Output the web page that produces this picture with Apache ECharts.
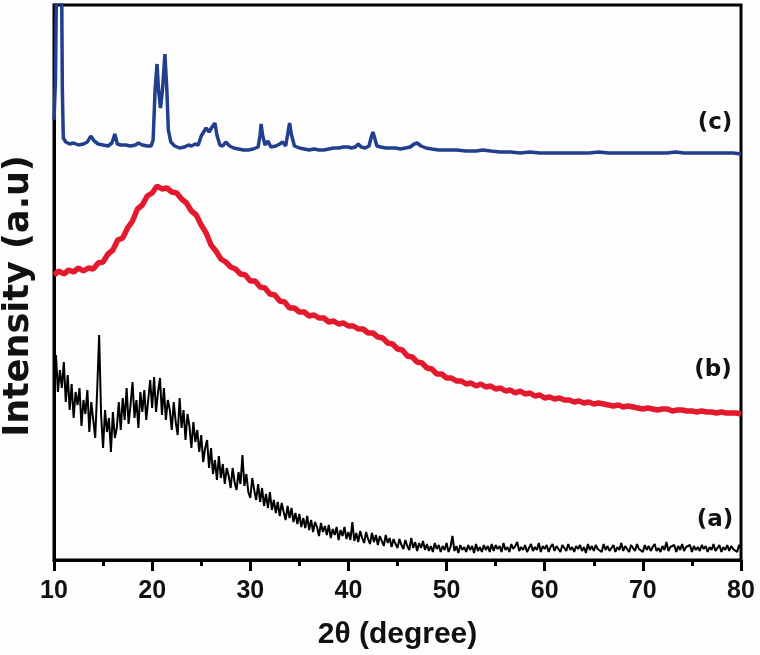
<!DOCTYPE html>
<html>
<head>
<meta charset="utf-8">
<title>XRD patterns</title>
<script src="https://cdn.jsdelivr.net/npm/echarts@6.0.0/dist/echarts.min.js"></script>
<style>
	html, body {margin: 0; padding: 0; background: #fefdfe;}
	#chart {width: 760px; height: 655px;}
</style>
</head>
<body>
<div id="chart"></div>
<script>
"use strict";

// 2theta axis
var xMin = 10, xMax = 80, xStep = 10;
var xTicks = [10, 20, 30, 40, 50, 60, 70, 80];

// (a) black pattern, one value every 0.2 degree from 10 to 80
var aStart = 10, aStep = 0.2;
var aValues = [
	180, 205, 168, 190, 172, 198, 158, 185, 150, 176,
	142, 168, 155, 172, 134, 160, 146, 170, 128, 158,
	140, 122, 170, 225, 145, 112, 150, 128, 142, 108,
	148, 122, 132, 158, 130, 162, 140, 172, 136, 155,
	178, 142, 160, 132, 168, 148, 170, 140, 160, 180,
	152, 183, 148, 168, 182, 145, 172, 140, 160, 150,
	130, 158, 138, 125, 162, 132, 150, 120, 146, 134,
	112, 138, 118, 130, 108, 125, 98, 112, 120, 92,
	112, 86, 100, 80, 104, 82, 96, 76, 92, 84,
	72, 92, 78, 70, 88, 76, 105, 74, 86, 68,
	62, 82, 70, 60, 76, 58, 72, 54, 66, 52,
	68, 50, 60, 47, 58, 44, 57, 48, 40, 54,
	42, 52, 38, 47, 36, 46, 33, 42, 32, 44,
	30, 40, 28, 38, 33, 24, 37, 28, 34, 25,
	35, 22, 31, 25, 33, 20, 30, 24, 33, 21,
	28, 20, 38, 19, 27, 18, 29, 22, 17, 28,
	21, 16, 27, 18, 25, 15, 24, 19, 14, 25,
	17, 22, 13, 21, 16, 12, 21, 15, 11, 20,
	14, 10, 22, 12, 18, 9, 17, 12, 19, 10,
	16, 9, 14, 8, 17, 11, 15, 8, 14, 10,
	17, 8, 13, 24, 9, 14, 7, 15, 10, 13,
	8, 15, 10, 14, 7, 16, 9, 13, 8, 15,
	10, 14, 8, 16, 9, 15, 11, 14, 8, 17,
	10, 13, 8, 16, 11, 14, 18, 9, 13, 10,
	15, 8, 12, 16, 9, 13, 10, 17, 8, 14,
	11, 15, 8, 13, 16, 9, 14, 11, 8, 15,
	12, 9, 16, 10, 13, 8, 14, 11, 15, 9,
	13, 7, 16, 10, 14, 9, 15, 11, 13, 8,
	16, 10, 14, 9, 12, 15, 8, 13, 10, 17,
	9, 14, 11, 8, 15, 12, 9, 16, 11, 13,
	8, 15, 10, 14, 9, 13, 16, 9, 12, 8,
	14, 10, 18, 9, 13, 11, 15, 8, 14, 10,
	16, 9, 13, 11, 15, 8, 14, 10, 13, 9,
	15, 11, 14, 8, 13, 10, 16, 9, 12, 15,
	8, 13, 10, 15, 9, 14, 11, 13, 8, 15,
	11
];

// (b) red pattern, one value every 0.5 degree from 10 to 80
var bStart = 10, bStep = 0.5;
var bValues = [
	285, 289, 286, 290, 288, 292, 289, 292, 291, 297, 298, 306, 310, 320, 322, 332, 339, 351, 355, 364,
	367, 374, 371, 372, 368, 367, 361, 357, 349, 345, 335, 327, 315, 309, 301, 298, 293, 291, 286, 285,
	279, 279, 273, 272, 266, 265, 259, 258, 252, 252, 248, 248, 244, 245, 242, 242, 238, 239, 236, 237,
	234, 234, 231, 231, 227, 227, 223, 222, 217, 216, 211, 210, 204, 203, 198, 197, 192, 191, 186, 186,
	182, 182, 179, 179, 176, 177, 174, 176, 173, 174, 171, 172, 169, 170, 167, 169, 166, 167, 164, 165,
	162, 163, 161, 162, 160, 160, 158, 159, 157, 158, 156, 157, 156, 155, 154, 155, 153, 154, 153, 152,
	151, 152, 151, 150, 151, 151, 149, 150, 150, 149, 149, 148, 149, 148, 148, 147, 148, 147, 147, 147,
	146
];

// (c) blue pattern, [2theta, intensity]
var cPoints = [
	[10.0, 440], [10.15, 480], [10.3, 620], [10.75, 620], [10.85, 470], [10.95, 422], [11.2, 418], [11.6, 416],
	[12.0, 417], [12.5, 415], [13.0, 416], [13.4, 418], [13.75, 424], [14.1, 419], [14.5, 416], [15.0, 415],
	[15.5, 414], [15.9, 417], [16.2, 426], [16.45, 416], [16.8, 415], [17.3, 415], [17.8, 414], [18.3, 415],
	[18.6, 417], [19.0, 415], [19.5, 414], [19.9, 414], [20.1, 420], [20.3, 470], [20.5, 496], [20.65, 470],
	[20.85, 452], [21.05, 470], [21.3, 506], [21.5, 470], [21.65, 430], [21.9, 418], [22.3, 414], [22.8, 412],
	[23.3, 413], [23.7, 415], [24.0, 414], [24.4, 416], [24.7, 415], [25.0, 424], [25.2, 422], [25.5, 432],
	[25.8, 428], [26.1, 433], [26.4, 437], [26.6, 425], [26.9, 415], [27.2, 414], [27.5, 418], [27.9, 414],
	[28.3, 412], [28.8, 411], [29.3, 410], [29.8, 410], [30.3, 411], [30.8, 413], [31.0, 425], [31.1, 436],
	[31.25, 425], [31.5, 415], [31.8, 419], [32.1, 413], [32.6, 414], [33.0, 416], [33.3, 418], [33.6, 414],
	[33.8, 425], [34.0, 437], [34.2, 425], [34.5, 414], [35.0, 412], [35.5, 411], [36.0, 410], [36.5, 411],
	[37.0, 410], [37.5, 410], [38.0, 411], [38.5, 412], [39.0, 412], [39.5, 413], [40.0, 413], [40.3, 412],
	[40.7, 413], [41.0, 416], [41.3, 413], [41.7, 412], [42.1, 414], [42.3, 422], [42.5, 428], [42.7, 421],
	[42.9, 414], [43.3, 413], [43.8, 412], [44.3, 412], [44.8, 412], [45.3, 411], [45.8, 412], [46.3, 413],
	[46.7, 416], [47.0, 417], [47.4, 414], [47.9, 412], [48.5, 411], [49.2, 410], [50.0, 410], [51.0, 410],
	[52.0, 409], [53.0, 409], [53.7, 410], [54.5, 409], [55.5, 408], [56.5, 408], [57.5, 407], [58.5, 408],
	[59.5, 407], [60.5, 407], [61.5, 407], [62.5, 407], [63.5, 407], [64.5, 407], [65.5, 408], [66.5, 407],
	[67.5, 407], [68.5, 407], [69.5, 407], [70.5, 407], [71.5, 407], [72.5, 407], [73.3, 408], [74.2, 407],
	[75.2, 407], [76.2, 407], [77.2, 407], [78.2, 407], [79.2, 407], [80.0, 406]
];

var seriesNames = ['(a)', '(b)', '(c)'];
var seriesColors = ['#000000', '#e31a2d', '#213f8c'];

function toPairs(start, step, values) {
	var d = [];
	for (var i = 0, len = values.length; i < len; i++) {
		d.push([+(start + i * step).toFixed(2), values[i]]);
	}
	return d;
}

function label(text, x, y) {
	return {
		type: 'text', x: x, y: y,
		style: {
			text: text,
			fill: '#111',
			fontFamily: 'DejaVu Sans',
			fontWeight: 'bold',
			fontSize: 23,
			align: 'center',
			verticalAlign: 'middle'
		}
	};
}

var chart = echarts.init(document.getElementById('chart'), null, {renderer: 'canvas'});

var option = {
	animation: false,
	backgroundColor: '#fefdfe',
	grid: {
		left: 54,
		right: 19,
		top: 5,
		bottom: 95,
		show: true,
		borderColor: '#000',
		borderWidth: 3
	},
	xAxis: {
		type: 'value',
		min: xMin,
		max: xMax,
		interval: xStep,
		name: '2θ (degree)',
		nameLocation: 'middle',
		nameGap: 60,
		nameTextStyle: {
			color: '#111',
			fontFamily: 'Liberation Sans',
			fontWeight: 'bold',
			fontSize: 30
		},
		axisLine: {lineStyle: {color: '#000', width: 3}},
		axisTick: {inside: false, length: 11, lineStyle: {color: '#000', width: 3}},
		minorTick: {show: true, splitNumber: 2, length: 6, lineStyle: {color: '#000', width: 3}},
		splitLine: {show: false},
		axisLabel: {
			margin: 19,
			color: '#111',
			fontFamily: 'Liberation Sans',
			fontWeight: 'bold',
			fontSize: 25,
			formatter: function (v) {
				return xTicks.indexOf(v) >= 0 ? String(v) : '';
			}
		}
	},
	yAxis: {
		type: 'value',
		min: 0,
		max: 555,
		axisLine: {show: true, lineStyle: {color: '#000', width: 3}},
		axisTick: {show: false},
		axisLabel: {show: false},
		splitLine: {show: false}
	},
	graphic: [
		{
			type: 'text',
			x: 19,
			y: 296,
			rotation: Math.PI / 2,
			style: {
				text: 'Intensity (a.u)',
				fill: '#111',
				fontFamily: 'DejaVu Sans',
				fontWeight: 'bold',
				fontSize: 35,
				align: 'center',
				verticalAlign: 'middle'
			}
		},
		label(seriesNames[2], 715, 123),
		label(seriesNames[1], 713, 370),
		label(seriesNames[0], 715, 520)
	],
	series: [
		{
			name: seriesNames[0],
			type: 'line',
			data: toPairs(aStart, aStep, aValues),
			showSymbol: false,
			symbol: 'none',
			clip: true,
			lineStyle: {color: seriesColors[0], width: 2}
		},
		{
			name: seriesNames[1],
			type: 'line',
			data: toPairs(bStart, bStep, bValues),
			showSymbol: false,
			symbol: 'none',
			clip: true,
			lineStyle: {color: seriesColors[1], width: 5.5}
		},
		{
			name: seriesNames[2],
			type: 'line',
			data: cPoints,
			showSymbol: false,
			symbol: 'none',
			clip: true,
			lineStyle: {color: seriesColors[2], width: 3.5}
		}
	]
};

chart.setOption(option);
</script>
</body>
</html>
